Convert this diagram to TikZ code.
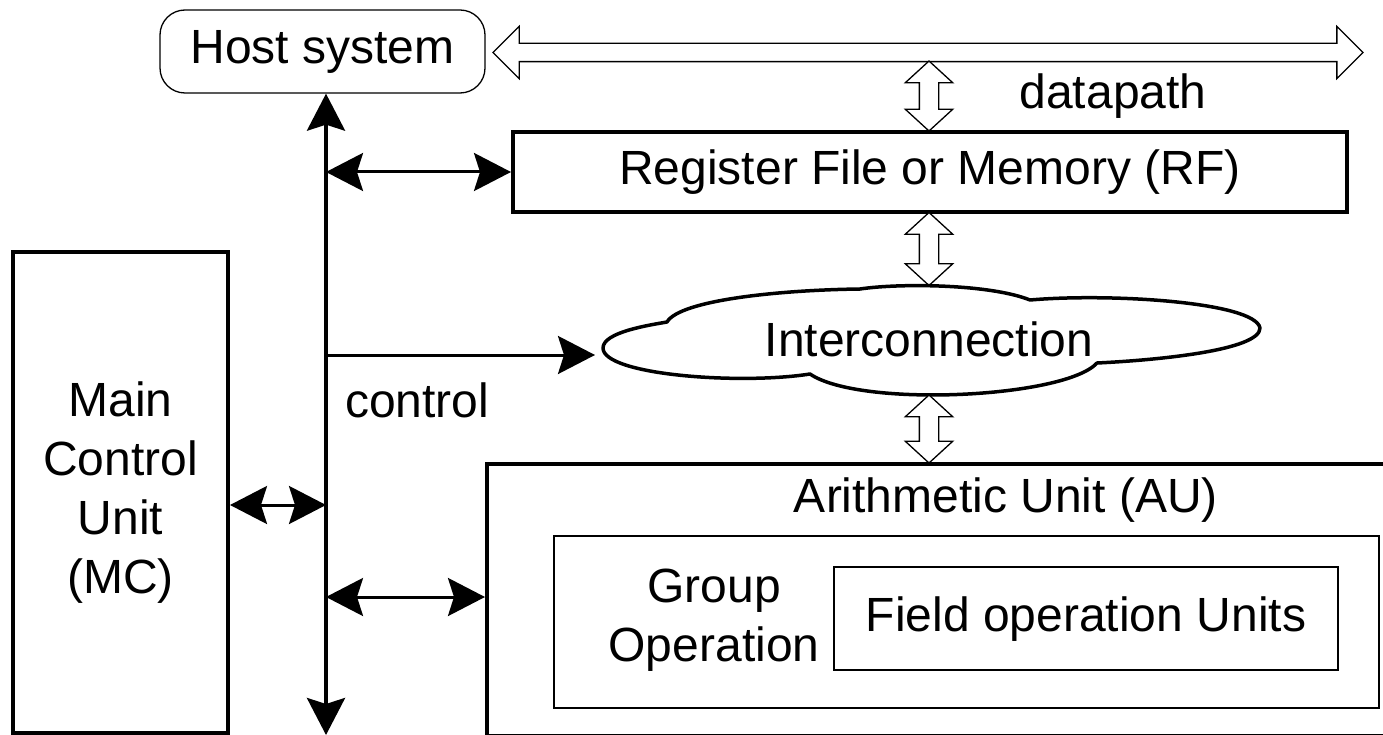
\documentclass[tikz,border=0pt]{standalone}
\usepackage{fontspec}
\setmainfont{Liberation Sans}
\usetikzlibrary{arrows.meta,shapes.arrows,calc}
\begin{document}
\begin{tikzpicture}[x=1pt,y=-1pt,
  every node/.style={font=\fontsize{48}{59}\selectfont, inner sep=0pt},
  >={Stealth[length=37pt,width=38pt,inset=6pt]},
  thickbox/.style={draw, line width=4pt, rectangle, text height=35pt, text depth=10pt},
  thinbox/.style={draw, line width=1.7pt, rectangle, text height=35pt, text depth=10pt},
  mcbox/.style={draw, line width=4pt, rectangle, align=center},
  hostbox/.style={draw, line width=1.3pt, rectangle, rounded corners=25pt, text height=35pt, text depth=10pt},
  hollowh/.style={double arrow, draw, fill=white, line width=1.3pt, inner xsep=0pt, inner ysep=8.5pt, double arrow head extend=17pt, double arrow tip angle=90, minimum width=51pt},
  hollowv/.style={double arrow, draw, fill=white, line width=1.3pt, rotate=90, inner xsep=0pt, inner ysep=9pt, double arrow head extend=14pt, double arrow tip angle=95, minimum width=46pt},
  bus/.style={line width=4pt, <->},
  link/.style={line width=3pt},
  cloudline/.style={line width=3.5pt, line join=round}
]
\useasboundingbox (0,0) rectangle (1383,735);
\clip (0,0) rectangle (1383,735);
\coordinate (busx) at (326,0);
\coordinate (busend) at (326,735);

% host and datapath
\node[hostbox, minimum width=325pt, minimum height=83pt] (host) at (322.5,51.5) {Host system};
\node[hollowh, minimum height=870pt] (dbus) at (928,52.5) {};
\node[hollowv, minimum height=70pt] (d1) at (929,96) {};
\node[anchor=base] (dp) at (1113,109) {datapath};

% register file
\node[thickbox, minimum width=834pt, minimum height=80pt] (rf) at (930,172) {Register File or Memory (RF)};
\node[hollowv, minimum height=73pt] (d2) at (929,249) {};

% interconnection cloud
\draw[cloudline, fill=white] (603,348) .. controls (603,332) and (650,325) .. (667,322)
 .. controls (680,300) and (780,290) .. (860,289)
 .. controls (900,283) and (990,284) .. (1030,300)
 .. controls (1110,293) and (1255,302) .. (1260,328)
 .. controls (1260,350) and (1160,360) .. (1097,363)
 .. controls (1065,398) and (860,408) .. (810,374)
 .. controls (740,385) and (603,375) .. (603,348) -- cycle;
\node[anchor=base] (cloud) at (929,356) {Interconnection};
\node[hollowv, minimum height=68pt] (d3) at (929,429) {};

% arithmetic unit
\node[thickbox, minimum width=933pt, minimum height=272pt] (au) at (953.5,600) {};
\node[anchor=base] (aut) at (1006,512) {Arithmetic Unit (AU)};
\node[thinbox, minimum width=825pt, minimum height=172pt] (grp) at (966.5,622) {};
\node[align=center] (grpt) at (714,620) {Group\\Operation};
\node[thinbox, minimum width=504pt, minimum height=103pt] (fou) at (1086,618.5) {Field operation Units};

% main control
\node[mcbox, minimum width=215pt, minimum height=481pt] (mc) at (120.5,492.5) {Main\\Control\\Unit\\(MC)};
\node[anchor=base west] (ctlt) at (345,417) {control};

% control bus and links
\draw[bus] (host.south -| busx) -- (busend);
\draw[link,<->] (rf.west -| busx) -- (rf.west);
\coordinate (ctlend) at (595,355);
\draw[link,->] (ctlend -| busx) -- (ctlend);
\coordinate (mcy) at (0,505);
\draw[link,<->] (mc.east |- mcy) -- (busx |- mcy);
\coordinate (auy) at (0,597);
\draw[link,<->] (busx |- auy) -- (au.west |- auy);
\end{tikzpicture}
\end{document}
